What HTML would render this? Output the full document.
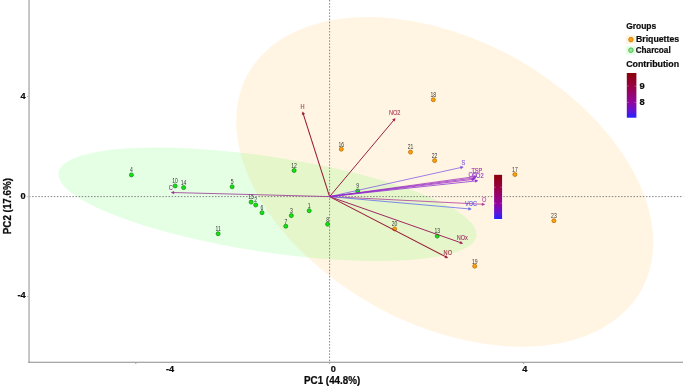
<!DOCTYPE html>
<html><head><meta charset="utf-8"><title>PCA biplot</title>
<style>
html,body{margin:0;padding:0;background:#fff;}
body{width:685px;height:386px;overflow:hidden;}
svg{display:block;font-family:"Liberation Sans",sans-serif;}
.b{font-weight:bold;fill:#0c0c0c;stroke:#0c0c0c;stroke-width:0.22px;}
.pl{font-size:5.4px;fill:#333;text-anchor:middle;}
.vl{font-size:5.6px;text-anchor:middle;}
</style></head><body>
<svg width="685" height="386" viewBox="0 0 685 386">
<defs>
<linearGradient id="cb" x1="0" y1="0" x2="0" y2="1">
<stop offset="0" stop-color="#8b0008"/><stop offset="0.3" stop-color="#9a0045"/><stop offset="0.65" stop-color="#92069c"/><stop offset="0.85" stop-color="#6414d6"/><stop offset="1" stop-color="#2222ff"/>
</linearGradient>
</defs>
<rect width="685" height="386" fill="#fff"/>
<ellipse cx="444.7" cy="181.9" rx="224.45" ry="142.4" transform="rotate(28.58 444.7 181.9)" fill="#ffa500" fill-opacity="0.115"/>
<ellipse cx="267.5" cy="204.3" rx="211.3" ry="47.7" transform="rotate(8.6 267.5 204.3)" fill="#00ff00" fill-opacity="0.105"/>
<line x1="29" y1="196.6" x2="683.3" y2="196.6" stroke="#777" stroke-width="0.9" stroke-dasharray="1.5 1.6"/>
<line x1="329.6" y1="0" x2="329.6" y2="362" stroke="#777" stroke-width="0.9" stroke-dasharray="1.5 1.6"/>
<circle cx="433.3" cy="99.7" r="2.0" fill="#ffa20a" stroke="#b86e04" stroke-width="0.8"/><circle cx="341.3" cy="149.2" r="2.0" fill="#ffa20a" stroke="#b86e04" stroke-width="0.8"/><circle cx="410.5" cy="152.1" r="2.0" fill="#ffa20a" stroke="#b86e04" stroke-width="0.8"/><circle cx="434.6" cy="160.6" r="2.0" fill="#ffa20a" stroke="#b86e04" stroke-width="0.8"/><circle cx="394.6" cy="228.9" r="2.0" fill="#ffa20a" stroke="#b86e04" stroke-width="0.8"/><circle cx="474.7" cy="266.2" r="2.0" fill="#ffa20a" stroke="#b86e04" stroke-width="0.8"/><circle cx="514.9" cy="174.5" r="2.0" fill="#ffa20a" stroke="#b86e04" stroke-width="0.8"/><circle cx="553.9" cy="220.7" r="2.0" fill="#ffa20a" stroke="#b86e04" stroke-width="0.8"/><circle cx="131.4" cy="174.9" r="2.0" fill="#0ce80c" stroke="#1f8c1f" stroke-width="0.8"/><circle cx="175.1" cy="185.9" r="2.0" fill="#0ce80c" stroke="#1f8c1f" stroke-width="0.8"/><circle cx="183.6" cy="187.6" r="2.0" fill="#0ce80c" stroke="#1f8c1f" stroke-width="0.8"/><circle cx="232.1" cy="186.8" r="2.0" fill="#0ce80c" stroke="#1f8c1f" stroke-width="0.8"/><circle cx="294.1" cy="170.5" r="2.0" fill="#0ce80c" stroke="#1f8c1f" stroke-width="0.8"/><circle cx="251.1" cy="202.1" r="2.0" fill="#0ce80c" stroke="#1f8c1f" stroke-width="0.8"/><circle cx="255.7" cy="205.0" r="2.0" fill="#0ce80c" stroke="#1f8c1f" stroke-width="0.8"/><circle cx="262.0" cy="212.7" r="2.0" fill="#0ce80c" stroke="#1f8c1f" stroke-width="0.8"/><circle cx="291.3" cy="215.6" r="2.0" fill="#0ce80c" stroke="#1f8c1f" stroke-width="0.8"/><circle cx="309.2" cy="210.7" r="2.0" fill="#0ce80c" stroke="#1f8c1f" stroke-width="0.8"/><circle cx="285.8" cy="226.2" r="2.0" fill="#0ce80c" stroke="#1f8c1f" stroke-width="0.8"/><circle cx="327.6" cy="224.2" r="2.0" fill="#0ce80c" stroke="#1f8c1f" stroke-width="0.8"/><circle cx="218.1" cy="233.7" r="2.0" fill="#0ce80c" stroke="#1f8c1f" stroke-width="0.8"/><circle cx="357.7" cy="191.0" r="2.0" fill="#0ce80c" stroke="#1f8c1f" stroke-width="0.8"/><circle cx="437.2" cy="236.1" r="2.0" fill="#0ce80c" stroke="#1f8c1f" stroke-width="0.8"/>
<text class="pl" transform="translate(433.3 97.0) scale(0.94 1.2)">18</text><text class="pl" transform="translate(341.3 146.5) scale(0.94 1.2)">16</text><text class="pl" transform="translate(410.5 149.4) scale(0.94 1.2)">21</text><text class="pl" transform="translate(434.6 157.9) scale(0.94 1.2)">22</text><text class="pl" transform="translate(394.6 226.2) scale(0.94 1.2)">20</text><text class="pl" transform="translate(474.7 263.5) scale(0.94 1.2)">19</text><text class="pl" transform="translate(514.9 171.8) scale(0.94 1.2)">17</text><text class="pl" transform="translate(553.9 218.0) scale(0.94 1.2)">23</text><text class="pl" transform="translate(131.4 172.2) scale(0.94 1.2)">4</text><text class="pl" transform="translate(175.1 183.2) scale(0.94 1.2)">10</text><text class="pl" transform="translate(183.6 184.9) scale(0.94 1.2)">14</text><text class="pl" transform="translate(232.1 184.1) scale(0.94 1.2)">5</text><text class="pl" transform="translate(294.1 167.8) scale(0.94 1.2)">12</text><text class="pl" transform="translate(251.1 199.4) scale(0.94 1.2)">15</text><text class="pl" transform="translate(255.7 202.3) scale(0.94 1.2)">2</text><text class="pl" transform="translate(262.0 210.0) scale(0.94 1.2)">6</text><text class="pl" transform="translate(291.3 212.9) scale(0.94 1.2)">3</text><text class="pl" transform="translate(309.2 208.0) scale(0.94 1.2)">1</text><text class="pl" transform="translate(285.8 223.5) scale(0.94 1.2)">7</text><text class="pl" transform="translate(327.6 221.5) scale(0.94 1.2)">8</text><text class="pl" transform="translate(218.1 231.0) scale(0.94 1.2)">11</text><text class="pl" transform="translate(357.7 188.3) scale(0.94 1.2)">9</text><text class="pl" transform="translate(437.2 233.4) scale(0.94 1.2)">13</text>
<line x1="329.6" y1="196.6" x2="302.9" y2="112.8" stroke="#9a1a38" stroke-width="1.05"/><polygon points="302.6,111.8 304.7,114.0 302.2,114.8" fill="#9a1a38" stroke="#9a1a38" stroke-width="0.4" stroke-linejoin="round"/>
<line x1="329.6" y1="196.6" x2="394.6" y2="119.2" stroke="#9c1f44" stroke-width="1.0"/><polygon points="395.2,118.4 394.5,121.3 392.5,119.6" fill="#9c1f44" stroke="#9c1f44" stroke-width="0.4" stroke-linejoin="round"/>
<line x1="329.6" y1="196.6" x2="446.9" y2="257.4" stroke="#9a1a38" stroke-width="1.05"/><polygon points="447.8,257.9 444.8,257.8 446.0,255.5" fill="#9a1a38" stroke="#9a1a38" stroke-width="0.4" stroke-linejoin="round"/>
<line x1="329.6" y1="196.6" x2="461.9" y2="243.1" stroke="#a02860" stroke-width="1.0"/><polygon points="462.8,243.4 459.8,243.7 460.7,241.3" fill="#a02860" stroke="#a02860" stroke-width="0.4" stroke-linejoin="round"/>
<line x1="329.6" y1="196.6" x2="483.8" y2="204.3" stroke="#b03a9c" stroke-width="0.8"/><polygon points="484.8,204.4 482.0,205.6 482.2,203.0" fill="#b03a9c" stroke="#b03a9c" stroke-width="0.4" stroke-linejoin="round"/>
<line x1="329.6" y1="196.6" x2="470.3" y2="209.0" stroke="#5a64ee" stroke-width="0.75"/><polygon points="471.3,209.1 468.5,210.2 468.7,207.6" fill="#5a64ee" stroke="#5a64ee" stroke-width="0.4" stroke-linejoin="round"/>
<line x1="329.6" y1="196.6" x2="462.3" y2="167.2" stroke="#7d55e6" stroke-width="0.75"/><polygon points="463.3,167.0 460.9,168.9 460.4,166.3" fill="#7d55e6" stroke="#7d55e6" stroke-width="0.4" stroke-linejoin="round"/>
<line x1="329.6" y1="196.6" x2="475.9" y2="176.5" stroke="#a02ab4" stroke-width="0.75"/><polygon points="476.9,176.4 474.4,178.1 474.0,175.5" fill="#a02ab4" stroke="#a02ab4" stroke-width="0.4" stroke-linejoin="round"/>
<line x1="329.6" y1="196.6" x2="473.6" y2="179.3" stroke="#9626c6" stroke-width="0.75"/><polygon points="474.6,179.2 472.1,180.8 471.8,178.2" fill="#9626c6" stroke="#9626c6" stroke-width="0.4" stroke-linejoin="round"/>
<line x1="329.6" y1="196.6" x2="475.0" y2="177.9" stroke="#9226cc" stroke-width="0.75"/><polygon points="476.0,177.8 473.5,179.4 473.2,176.9" fill="#9226cc" stroke="#9226cc" stroke-width="0.4" stroke-linejoin="round"/>
<line x1="329.6" y1="196.6" x2="476.9" y2="180.8" stroke="#8e2ad0" stroke-width="0.75"/><polygon points="477.9,180.7 475.4,182.3 475.1,179.7" fill="#8e2ad0" stroke="#8e2ad0" stroke-width="0.4" stroke-linejoin="round"/>
<line x1="329.6" y1="196.6" x2="172.2" y2="192.5" stroke="#9a3296" stroke-width="0.8"/><polygon points="171.2,192.5 173.9,191.3 173.9,193.9" fill="#9a3296" stroke="#9a3296" stroke-width="0.4" stroke-linejoin="round"/>
<text class="vl" transform="translate(302.6 109.1) scale(1 1.3)" fill="#b0405c" stroke="#b0405c" stroke-width="0.12">H</text><text class="vl" transform="translate(394.7 115.0) scale(1 1.3)" fill="#b0405c" stroke="#b0405c" stroke-width="0.12">NO2</text><text class="vl" transform="translate(447.8 255.4) scale(1 1.3)" fill="#a8324e" stroke="#a8324e" stroke-width="0.12">NO</text><text class="vl" transform="translate(462.3 240.3) scale(1 1.3)" fill="#a8386a" stroke="#a8386a" stroke-width="0.12">NOx</text><text class="vl" transform="translate(484.1 201.7) scale(1 1.3)" fill="#c050a8" stroke="#c050a8" stroke-width="0.12">O</text><text class="vl" transform="translate(471.1 206.1) scale(1 1.3)" fill="#5a64e6" stroke="#5a64e6" stroke-width="0.12">VOC</text><text class="vl" transform="translate(463.3 164.5) scale(1 1.3)" fill="#8a60e0" stroke="#8a60e0" stroke-width="0.12">S</text><text class="vl" transform="translate(476.9 173.3) scale(1 1.3)" fill="#a838b0" stroke="#a838b0" stroke-width="0.12">TSP</text><text class="vl" transform="translate(472.6 177.1) scale(1 1.3)" fill="#9040d0" stroke="#9040d0" stroke-width="0.12">CO</text><text class="vl" transform="translate(477.8 177.5) scale(1 1.3)" fill="#9040d0" stroke="#9040d0" stroke-width="0.12">CO2</text><text class="vl" transform="translate(170.8 189.5) scale(1 1.3)" fill="#a040a0" stroke="#a040a0" stroke-width="0.12">C</text>
<rect x="493.2" y="174.0" width="9.7" height="45.9" fill="#fff" fill-opacity="0.75"/><rect x="494.1" y="174.8" width="8.0" height="44.2" fill="url(#cb)"/><line x1="494" y1="187.3" x2="495.6" y2="187.3" stroke="#fff" stroke-opacity="0.6" stroke-width="0.5"/><line x1="500.5" y1="187.3" x2="502.1" y2="187.3" stroke="#fff" stroke-opacity="0.6" stroke-width="0.5"/><line x1="494" y1="203.2" x2="495.6" y2="203.2" stroke="#fff" stroke-opacity="0.6" stroke-width="0.5"/><line x1="500.5" y1="203.2" x2="502.1" y2="203.2" stroke="#fff" stroke-opacity="0.6" stroke-width="0.5"/>
<line x1="29.05" y1="0" x2="29.05" y2="362.8" stroke="#bdbdbd" stroke-width="1.7"/><line x1="28.2" y1="362.2" x2="683" y2="362.2" stroke="#8c8c8c" stroke-width="1.1"/><line x1="135.8" y1="362.7" x2="135.8" y2="364" stroke="#777" stroke-width="0.7"/><line x1="329.6" y1="362.7" x2="329.6" y2="364" stroke="#777" stroke-width="0.7"/><line x1="523.7" y1="362.7" x2="523.7" y2="364" stroke="#777" stroke-width="0.7"/><line x1="27" y1="96.5" x2="28.2" y2="96.5" stroke="#999" stroke-width="0.7"/><line x1="27" y1="196.6" x2="28.2" y2="196.6" stroke="#999" stroke-width="0.7"/><line x1="27" y1="296.6" x2="28.2" y2="296.6" stroke="#999" stroke-width="0.7"/>
<text class="b" font-size="9.2" text-anchor="middle" x="170" y="372.2">-4</text><text class="b" font-size="9.2" text-anchor="middle" x="333.4" y="372.2">0</text><text class="b" font-size="9.2" text-anchor="middle" x="524.8" y="372.2">4</text><text class="b" font-size="9.2" text-anchor="end" x="25.6" y="98.9">4</text><text class="b" font-size="9.2" text-anchor="end" x="25.6" y="198.8">0</text><text class="b" font-size="9.2" text-anchor="end" x="25.6" y="297.8">-4</text>
<text class="b" font-size="10.1" x="304" y="383.5" textLength="56.3" lengthAdjust="spacingAndGlyphs">PC1 (44.8%)</text><text class="b" font-size="10.1" transform="translate(10.5 234.2) rotate(-90)" textLength="56.2" lengthAdjust="spacingAndGlyphs">PC2 (17.6%)</text>
<text class="b" font-size="8.7" x="626.2" y="29.3" textLength="30" lengthAdjust="spacingAndGlyphs">Groups</text><rect x="625.9" y="35.2" width="9.8" height="8.6" fill="#ffa500" fill-opacity="0.12"/><rect x="625.9" y="46.1" width="9.8" height="8.6" fill="#00ff00" fill-opacity="0.10"/><circle cx="630.9" cy="39.6" r="2.3" fill="#ffa20a" stroke="#b87008" stroke-width="0.7"/><circle cx="630.9" cy="50.2" r="2.3" fill="#8fee8f" stroke="#3a9a3a" stroke-width="0.7"/><text class="b" font-size="8.7" x="636" y="41.7" textLength="43.1" lengthAdjust="spacingAndGlyphs">Briquettes</text><text class="b" font-size="8.7" x="635.7" y="52.6" textLength="35" lengthAdjust="spacingAndGlyphs">Charcoal</text><text class="b" font-size="8.7" x="626.2" y="66.6" textLength="52.9" lengthAdjust="spacingAndGlyphs">Contribution</text><rect x="626.8" y="73" width="9.6" height="44.7" fill="url(#cb)"/><line x1="626.8" y1="86.1" x2="628.7" y2="86.1" stroke="#fff" stroke-opacity="0.55" stroke-width="0.5"/><line x1="634.5" y1="86.1" x2="636.4" y2="86.1" stroke="#fff" stroke-opacity="0.55" stroke-width="0.5"/><line x1="626.8" y1="102.4" x2="628.7" y2="102.4" stroke="#fff" stroke-opacity="0.55" stroke-width="0.5"/><line x1="634.5" y1="102.4" x2="636.4" y2="102.4" stroke="#fff" stroke-opacity="0.55" stroke-width="0.5"/><text class="b" font-size="9.3" x="639.5" y="88.9">9</text><text class="b" font-size="9.3" x="639.5" y="105.2">8</text>
</svg></body></html>
